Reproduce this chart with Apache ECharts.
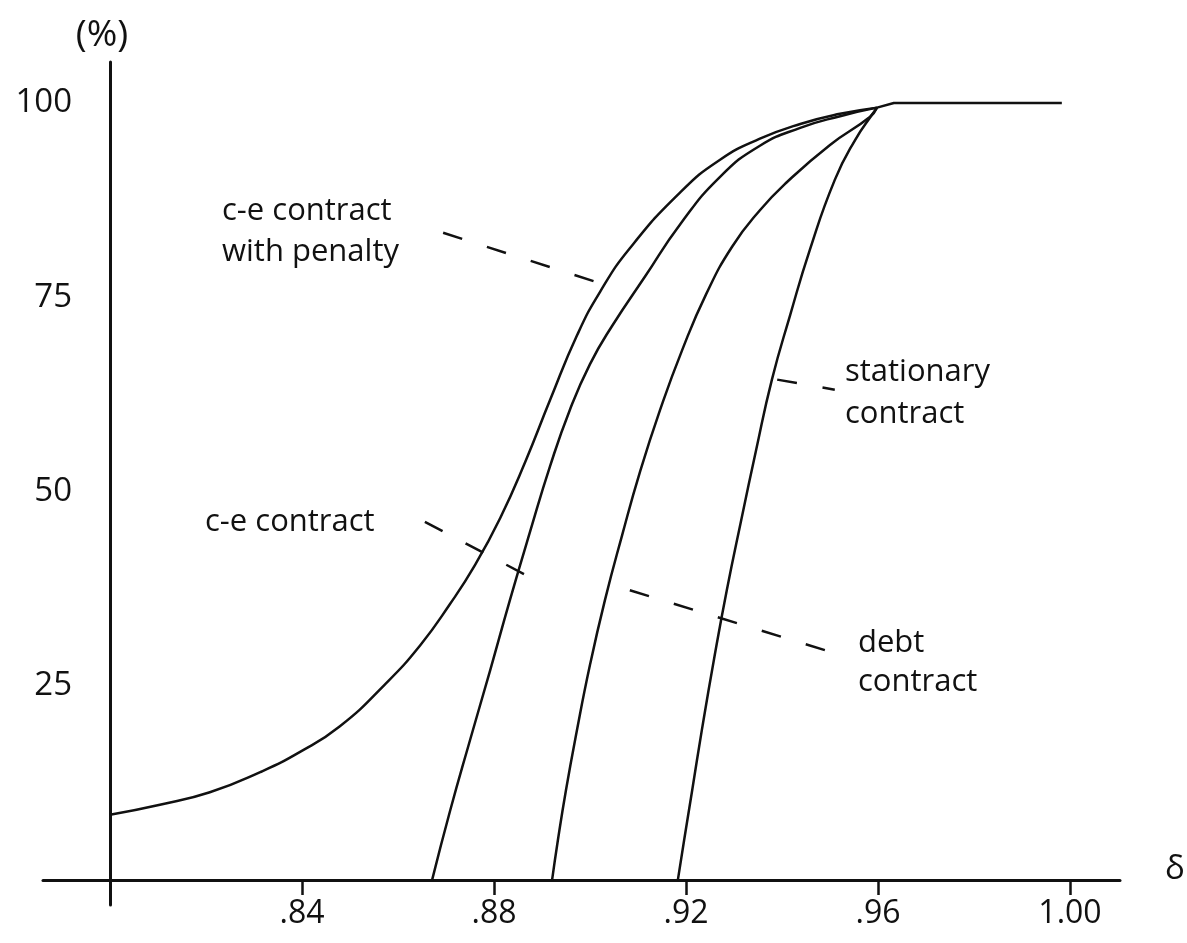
<!DOCTYPE html>
<html>
<head>
<meta charset="utf-8">
<script src="https://cdn.jsdelivr.net/npm/echarts@6/dist/echarts.min.js"></script>
<style>
  html, body { margin: 0; padding: 0; background: #fff; }
  #main { width: 1187px; height: 943px; }
</style>
</head>
<body>
<div id="main"></div>
<script>
// tick labels
var xTicks = [0.84, 0.88, 0.92, 0.96, 1.00];
var yTicks = [25, 50, 75, 100];

// curves: [delta, percent]
var cePenalty = [
  [0.8000, 8.4], [0.8104, 9.7], [0.8208, 11.3], [0.8313, 13.9], [0.8396, 16.5],
  [0.8479, 19.8], [0.8573, 25.2], [0.8646, 30.2], [0.8708, 35.5], [0.8760, 40.5],
  [0.8813, 46.6], [0.8865, 53.8], [0.8917, 61.8], [0.8973, 70.1], [0.9021, 75.7],
  [0.9083, 81.3], [0.9188, 88.5], [0.9271, 92.7], [0.9354, 95.4], [0.9438, 97.3],
  [0.9521, 98.6], [0.9598, 99.4]
];
var ceContract = [
  [0.8671, 0], [0.8708, 8.8], [0.8750, 18.0], [0.8792, 27.0], [0.8833, 36.0],
  [0.8875, 44.8], [0.8917, 53.3], [0.8958, 60.5], [0.9000, 66.4], [0.9046, 71.3],
  [0.9115, 77.7], [0.9188, 84.4], [0.9271, 90.5], [0.9354, 94.5], [0.9438, 96.8],
  [0.9521, 98.3], [0.9598, 99.4]
];
var debtContract = [
  [0.8921, 0], [0.8933, 5.1], [0.8950, 11.6], [0.8971, 18.7], [0.9000, 27.7],
  [0.9031, 36.0], [0.9067, 44.4], [0.9104, 52.5], [0.9146, 60.5], [0.9192, 68.2],
  [0.9242, 75.4], [0.9296, 81.5], [0.9354, 86.2], [0.9410, 89.8], [0.9500, 94.6],
  [0.9583, 98.2], [0.9598, 99.4]
];
var stationary = [
  [0.9183, 0], [0.9196, 5.1], [0.9213, 11.6], [0.9233, 19.3], [0.9258, 28.3],
  [0.9285, 37.3], [0.9315, 46.3], [0.9346, 55.3], [0.9379, 64.4], [0.9417, 72.7],
  [0.9458, 81.1], [0.9510, 90.1], [0.9552, 95.2], [0.9590, 98.7], [0.9598, 99.4]
];
var plateau = [[0.9598, 99.4], [0.9633, 100], [0.9983, 100]];

// dashed leader lines
var penaltyLeader = [[0.8694, 83.3], [0.9021, 76.8]];
var ceLeader = [[0.8656, 46.1], [0.8865, 39.3]];
var debtLeader = [[0.9083, 37.3], [0.9521, 29.0]];
var stationaryLeader = [[0.9390, 64.4], [0.9510, 63.1]];

var font = 'Open Sans';
var ink = '#111';

function curve(data) {
  return {
    type: 'line', data: data, symbol: 'none', smooth: 0.5,
    lineStyle: { color: ink, width: 2.5 }, silent: true, animation: false
  };
}
function leader(data) {
  return {
    type: 'line', data: data, symbol: 'none',
    lineStyle: { color: ink, width: 2.5, type: [20, 26] }, silent: true, animation: false
  };
}
function txt(x, y, s, align, size) {
  return {
    type: 'text', x: x, y: y,
    style: { text: s, font: (size || 31) + 'px "' + font + '"', fill: ink, align: align || 'left', verticalAlign: 'middle' }
  };
}

var chart = echarts.init(document.getElementById('main'));
chart.setOption({
  backgroundColor: '#fff',
  animation: false,
  grid: { left: 43, right: 67, top: 62, bottom: 38, outerBoundsMode: 'none' },
  xAxis: {
    type: 'value', min: 0.78604, max: 1.01042, offset: -25,
    axisLine: { lineStyle: { color: ink, width: 3 } },
    axisTick: { show: true, customValues: xTicks, length: 15, lineStyle: { color: ink, width: 2.5 } },
    axisLabel: {
      customValues: xTicks, margin: 18, color: ink, fontSize: 32, fontFamily: font,
      formatter: function (v) { var s = v.toFixed(2); return v < 1 ? s.slice(1) : s; }
    },
    splitLine: { show: false }
  },
  yAxis: {
    type: 'value', min: -3.2, max: 105.27, offset: -67,
    axisLine: { show: true, lineStyle: { color: ink, width: 3 } },
    axisTick: { show: false },
    axisLabel: { customValues: yTicks, margin: 38, color: ink, fontSize: 33, fontFamily: font },
    splitLine: { show: false }
  },
  series: [
    curve(cePenalty), curve(ceContract), curve(debtContract), curve(stationary),
    { type: 'line', data: plateau, symbol: 'none', lineStyle: { color: ink, width: 2.5 }, silent: true, animation: false },
    leader(penaltyLeader), leader(ceLeader), leader(debtLeader), leader(stationaryLeader)
  ],
  graphic: [
    txt(102, 35, '(%)', 'center', 37),
    txt(1175, 870, 'δ', 'center', 33),
    txt(222, 211, 'c-e contract'),
    txt(222, 252, 'with penalty'),
    txt(205, 522, 'c-e contract'),
    txt(845, 372, 'stationary'),
    txt(845, 414, 'contract'),
    txt(858, 643, 'debt'),
    txt(858, 682, 'contract')
  ]
});
</script>
</body>
</html>
